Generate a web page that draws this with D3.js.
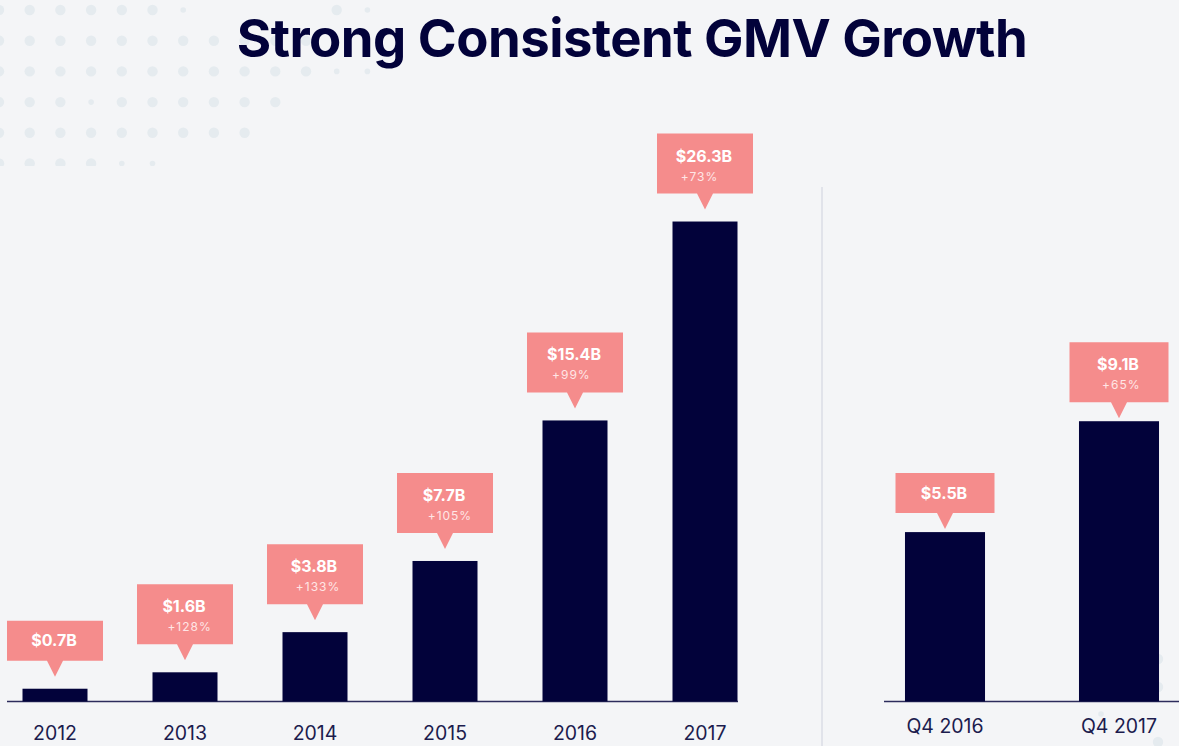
<!DOCTYPE html>
<html>
<head>
<meta charset="utf-8">
<script src="https://cdn.jsdelivr.net/npm/d3@7"></script>
<style>
  html, body { margin: 0; padding: 0; background: #f4f5f7; }
  svg { display: block; }
</style>
</head>
<body>
<svg id="chart" width="1179" height="746"></svg>
<script>
// ---- data ----
const title = "Strong Consistent GMV Growth";
const years = ["2012", "2013", "2014", "2015", "2016", "2017"];
const yearValues = [0.7, 1.6, 3.8, 7.7, 15.4, 26.3];
const yearLabels = ["$0.7B", "$1.6B", "$3.8B", "$7.7B", "$15.4B", "$26.3B"];
const yearGrowth = ["", "+128%", "+133%", "+105%", "+99%", "+73%"];
const quarters = ["Q4 2016", "Q4 2017"];
const quarterValues = [5.5, 9.1];
const quarterLabels = ["$5.5B", "$9.1B"];
const quarterGrowth = ["", "+65%"];

// ---- setup ----
const W = 1179, H = 746;
const svg = d3.select("#chart");
const NAVY = "#02023a";
const PINK = "#f58c8c";
const FONT = "Inter, 'Noto Sans', sans-serif";

svg.append("rect").attr("width", W).attr("height", H).attr("fill", "#f4f5f7");

// decorative dot pattern (top-left)
const dotRows = ["BBBBBBs....Bs", "BBBBBBBBBBB", "BBBBBBBBBBBss", "BBBsBBBBBB", "BBBBBBBBB", "BBBBss"];
const dotDefs = [];
dotRows.forEach((row, j) => {
  row.split("").forEach((c, i) => {
    if (c === "B" || c === "s") dotDefs.push({x: -1 + 30.7 * i, y: 10 + 30.7 * j, r: c === "B" ? 5.2 : 2.8});
  });
});
svg.append("clipPath").attr("id", "dotclip").append("rect").attr("x", 0).attr("y", 0).attr("width", 420).attr("height", 166);
svg.append("g").attr("clip-path", "url(#dotclip)")
  .selectAll("circle").data(dotDefs).join("circle")
  .attr("cx", d => d.x).attr("cy", d => d.y).attr("r", d => d.r)
  .attr("fill", "#e5ebef");
// a few dots bottom-right
const brDots = [{x: 1158, y: 659, r: 5.2}, {x: 1158, y: 687, r: 5.2}, {x: 1158, y: 742, r: 5.2}, {x: 1101, y: 714, r: 2.8}];
svg.append("g").selectAll("circle").data(brDots).join("circle")
  .attr("cx", d => d.x).attr("cy", d => d.y).attr("r", d => d.r).attr("fill", "#e5ebef");

// title
const t = svg.append("text")
  .attr("x", 632).attr("y", 57)
  .attr("text-anchor", "middle")
  .attr("font-family", FONT).attr("font-weight", 700)
  .attr("font-size", 54).attr("fill", NAVY)
  .attr("letter-spacing", -0.5)
  .text(title);
const tl = t.node().getComputedTextLength();
t.attr("font-size", 54 * 791 / tl);

// divider
svg.append("line").attr("x1", 822).attr("x2", 822).attr("y1", 187).attr("y2", H)
  .attr("stroke", "#e1e3ea").attr("stroke-width", 2);

// ---- scales ----
const baseY = 701.5;
const xL = d3.scaleBand().domain(years).range([-10, 770]).paddingInner(0.5).paddingOuter(0.25);
const yL = d3.scaleLinear().domain([0, 30]).range([baseY, baseY - 30 * 18.25]);
const xR = d3.scaleBand().domain(quarters).range([858, 1206]).paddingInner(0.54).paddingOuter(0.27);
const yR = d3.scaleLinear().domain([0, 10]).range([baseY, baseY - 308]);

function panel(cats, vals, labels, growth, x, y, lineX1, lineX2, labelTop, boxW, gap) {
  const g = svg.append("g");
  const data = cats.map((c, i) => ({c, v: vals[i], l: labels[i], gr: growth[i]}));
  // baseline
  g.append("line").attr("x1", lineX1).attr("x2", lineX2).attr("y1", 701.5).attr("y2", 701.5)
    .attr("stroke", "#2c2c5c").attr("stroke-width", 1.3);
  // bars
  g.selectAll("rect.bar").data(data).join("rect").attr("class", "bar")
    .attr("x", d => x(d.c)).attr("width", x.bandwidth())
    .attr("y", d => y(d.v)).attr("height", d => y(0) - y(d.v))
    .attr("fill", NAVY);
  // axis
  const ax = g.append("g").attr("transform", `translate(0,${labelTop})`)
    .call(d3.axisBottom(x).tickSize(0).tickPadding(0));
  ax.select(".domain").remove();
  ax.selectAll("text").attr("y", 0).attr("dy", "0.71em")
    .attr("font-family", FONT).attr("font-size", 19.5).attr("fill", "#1c1c4e");
  // callouts
  const tri = 16, triHalf = 8;
  data.forEach(d => {
    const cx = x(d.c) + x.bandwidth() / 2;
    const tip = y(d.v) - gap;
    const bh = d.gr ? 60 : 40;
    const bottom = tip - tri;
    const top = bottom - bh;
    const cg = g.append("g");
    cg.append("path")
      .attr("d", `M${cx - boxW / 2},${top}H${cx + boxW / 2}V${bottom}H${cx + triHalf}L${cx},${tip}L${cx - triHalf},${bottom}H${cx - boxW / 2}Z`)
      .attr("fill", PINK);
    const main = cg.append("text")
      .attr("x", cx - 1).attr("y", d.gr ? top + 28 : top + 25.5)
      .attr("text-anchor", "middle")
      .attr("font-family", FONT).attr("font-weight", 700).attr("font-size", 16)
      .attr("fill", "#ffffff").text(d.l);
    if (d.gr) {
      const bb = main.node().getBBox();
      cg.append("text")
        .attr("x", bb.x + 5).attr("y", top + 47)
        .attr("font-family", FONT).attr("font-size", 12).attr("letter-spacing", 1)
        .attr("fill", "#ffe6e6").text(d.gr);
    }
  });
}

panel(years, yearValues, yearLabels, yearGrowth, xL, yL, 7, 738, 726, 96, 12);
panel(quarters, quarterValues, quarterLabels, quarterGrowth, xR, yR, 884, W, 719, 99, 3);
</script>
</body>
</html>
